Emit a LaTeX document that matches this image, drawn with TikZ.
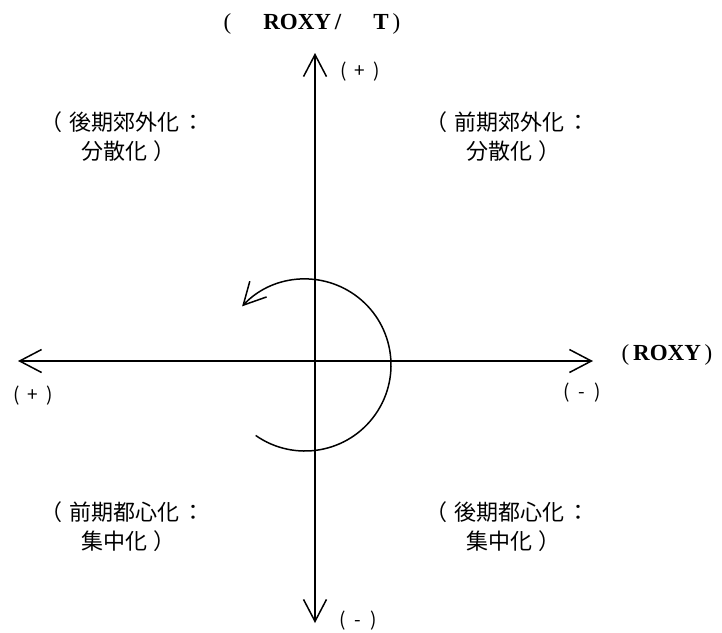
\documentclass[tikz,border=0pt]{standalone}
\usepackage{fontspec}
\setmainfont{Liberation Serif}
\newfontfamily\cjk{Noto Sans CJK JP}
\usetikzlibrary{arrows.meta}
\tikzset{
  barb/.tip={Straight Barb[length=22pt,width=23pt,line width=1.5pt]},
  axisline/.style={line width=1.5pt, barb-barb},
  turnline/.style={line width=1.5pt, -barb},
  quad/.style={font=\cjk\fontsize{22}{28}\selectfont, inner sep=0pt, anchor=west},
  sign/.style={font=\cjk\fontsize{19}{20}\selectfont, inner sep=0pt},
  title/.style={font=\fontsize{23}{26}\selectfont, inner sep=0pt}
}
\begin{document}
\begin{tikzpicture}[x=1pt,y=1pt]
\useasboundingbox (0,0) rectangle (722,-632);
% axes
\coordinate (vtop) at (315,-53);
\coordinate (vbot) at (315,-623);
\coordinate (hleft) at (18,-361);
\coordinate (hright) at (593,-361);
\draw[axisline] (vbot) -- (vtop);
\draw[axisline] (hleft) -- (hright);
% rotation arc
\coordinate (c) at (305,-365);
\draw[turnline] ([shift={(-125:86)}]c) arc[start angle=-125, end angle=137, radius=86];
% titles
\node[title] (ttop) at (312,-24) {(\hspace{32pt}\textbf{ROXY\,/}\hspace{32pt}\textbf{T}\,)};
\node[title] (tright) at (667,-355) {(\,\textbf{ROXY}\,)};
% signs
\node[sign] (stop) at (360,-72) {(\hspace{8pt}+\hspace{8pt})};
\node[sign] (sbot) at (358,-621) {(\hspace{9pt}-\hspace{9pt})};
\node[sign] (sleft) at (33,-396) {(\hspace{8pt}+\hspace{8pt})};
\node[sign] (sright) at (582,-393) {(\hspace{9pt}-\hspace{9pt})};
% quadrant labels
\node[quad] (qtl1) at (69,-122) {\llap{（\hspace{7pt}}後期郊外化\hspace{3pt}：};
\node[quad] (qtl2) at (81,-151) {分散化\hspace{6pt}）};
\node[quad] (qtr1) at (454,-122) {\llap{（\hspace{7pt}}前期郊外化\hspace{3pt}：};
\node[quad] (qtr2) at (466,-151) {分散化\hspace{6pt}）};
\node[quad] (qbl1) at (69,-512) {\llap{（\hspace{7pt}}前期都心化\hspace{3pt}：};
\node[quad] (qbl2) at (81,-541) {集中化\hspace{6pt}）};
\node[quad] (qbr1) at (454,-512) {\llap{（\hspace{7pt}}後期都心化\hspace{3pt}：};
\node[quad] (qbr2) at (466,-541) {集中化\hspace{6pt}）};
\end{tikzpicture}
\end{document}
